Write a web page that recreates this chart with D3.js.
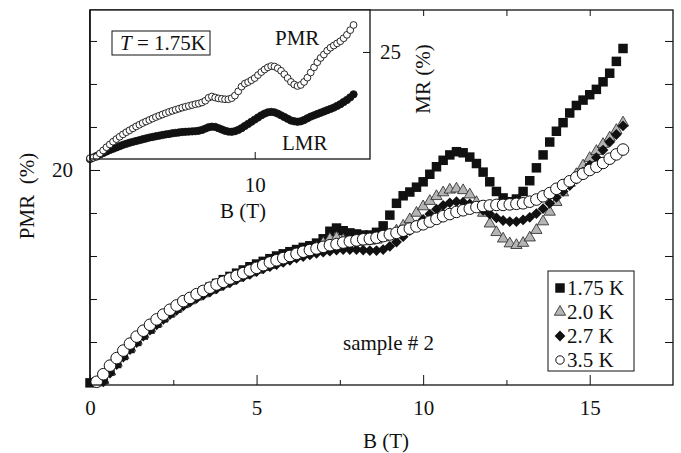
<!DOCTYPE html>
<html>
<head>
<meta charset="utf-8">
<script src="https://cdn.jsdelivr.net/npm/d3@7"></script>
<style>
body { margin: 0; background: #fff; }
text { font-family: "Liberation Serif", "Times New Roman", serif; fill: #111; }
</style>
</head>
<body>
<script>
// Magnetic field (T), shared by all series.
var fieldB = [0, 0.2, 0.4, 0.6, 0.8, 1.0, 1.2, 1.4, 1.6, 1.8,
    2.0, 2.2, 2.4, 2.6, 2.8, 3.0, 3.2, 3.4, 3.6, 3.8,
    4.0, 4.2, 4.4, 4.6, 4.8, 5.0, 5.2, 5.4, 5.6, 5.8,
    6.0, 6.2, 6.4, 6.6, 6.8, 7.0, 7.2, 7.4, 7.6, 7.8,
    8.0, 8.2, 8.4, 8.6, 8.8, 9.0, 9.2, 9.4, 9.6, 9.8,
    10.0, 10.2, 10.4, 10.6, 10.8, 11.0, 11.2, 11.4, 11.6, 11.8,
    12.0, 12.2, 12.4, 12.6, 12.8, 13.0, 13.2, 13.4, 13.6, 13.8,
    14.0, 14.2, 14.4, 14.6, 14.8, 15.0, 15.2, 15.4, 15.6, 15.8, 16.0];

// PMR (%) at 1.75 K (also the PMR curve of the inset).
var pmr175 = [0.2, 0.3, 0.5, 1.3, 2.0, 2.75, 3.4, 4.05, 4.65, 5.2,
    5.75, 6.25, 6.7, 7.15, 7.6, 8.0, 8.4, 8.75, 9.1, 9.45,
    9.8, 10.1, 10.4, 10.7, 11.0, 11.25, 11.5, 11.75, 12.0, 12.2,
    12.4, 12.6, 12.8, 12.95, 13.2, 13.6, 14.3, 14.6, 14.35, 14.15,
    14.05, 13.95, 13.95, 14.2, 14.8, 15.8, 16.9, 17.6, 17.95, 18.4,
    18.9, 19.6, 20.3, 20.9, 21.4, 21.7, 21.6, 21.2, 20.6, 19.8,
    18.9, 18.0, 17.4, 17.05, 17.3, 18.0, 19.0, 20.2, 21.4, 22.6,
    23.6, 24.4, 25.3, 26.0, 26.5, 27.0, 27.5, 28.2, 29.0, 30.1, 31.3];

// PMR (%) at 2.0 K.
var pmr20 = [null, null, 0.45, 1.25, 2.05, 2.75, 3.45, 4.1, 4.7, 5.25,
    5.75, 6.25, 6.7, 7.1, 7.5, 7.85, 8.2, 8.5, 8.8, 9.1,
    9.4, 9.65, 9.95, 10.2, 10.45, 10.7, 10.95, 11.15, 11.4, 11.6,
    11.8, 12.0, 12.2, 12.45, 12.8, 13.2, 13.6, 13.7, 13.5, 13.35,
    13.3, 13.35, 13.4, 13.5, 13.7, 14.0, 14.35, 14.8, 15.4, 16.0,
    16.6, 17.1, 17.55, 17.9, 18.15, 18.25, 18.1, 17.7, 17.0, 16.0,
    15.0, 14.2, 13.6, 13.15, 13.0, 13.2, 13.7, 14.4, 15.2, 16.1,
    17.0, 17.9, 18.8, 19.6, 20.4, 21.1, 21.75, 22.4, 23.0, 23.7, 24.4];

// PMR (%) at 2.7 K.
var pmr27 = [null, null, 0.3, 1.1, 1.9, 2.6, 3.3, 3.95, 4.55, 5.1,
    5.6, 6.1, 6.55, 6.95, 7.35, 7.7, 8.05, 8.35, 8.65, 8.95,
    9.25, 9.5, 9.8, 10.05, 10.3, 10.55, 10.8, 11.0, 11.2, 11.4,
    11.6, 11.8, 11.95, 12.1, 12.25, 12.35, 12.45, 12.55, 12.6, 12.6,
    12.6, 12.55, 12.5, 12.5, 12.6, 12.9, 13.3, 13.8, 14.35, 14.9,
    15.4, 15.9, 16.35, 16.7, 16.95, 17.05, 17.0, 16.85, 16.6, 16.25,
    15.9, 15.55, 15.3, 15.2, 15.2, 15.35, 15.6, 15.95, 16.4, 16.9,
    17.45, 18.0, 18.55, 19.15, 19.8, 20.45, 21.15, 21.85, 22.6, 23.3, 24.1];

// PMR (%) at 3.5 K.
var pmr35 = [null, 0.3, 1.0, 1.8, 2.5, 3.2, 3.85, 4.5, 5.05, 5.6,
    6.1, 6.55, 7.0, 7.4, 7.8, 8.1, 8.45, 8.75, 9.05, 9.35,
    9.6, 9.9, 10.15, 10.4, 10.65, 10.9, 11.15, 11.4, 11.6, 11.8,
    12.0, 12.2, 12.4, 12.55, 12.7, 12.85, 13.0, 13.1, 13.25, 13.35,
    13.45, 13.55, 13.6, 13.7, 13.85, 14.0, 14.15, 14.35, 14.55, 14.75,
    14.95, 15.2, 15.45, 15.7, 15.9, 16.1, 16.25, 16.4, 16.55, 16.65,
    16.7, 16.75, 16.75, 16.8, 16.85, 16.9, 17.05, 17.25, 17.55, 17.85,
    18.25, 18.6, 18.95, 19.3, 19.65, 20.0, 20.3, 20.65, 21.05, 21.45, 21.9];

// LMR (%) at 1.75 K, inset.
var lmr175 = [0, 0.35, 0.7, 1.05, 1.4, 1.75, 2.1, 2.4, 2.7, 3.0,
    3.3, 3.55, 3.8, 4.0, 4.2, 4.4, 4.6, 4.8, 5.0, 5.15,
    5.3, 5.45, 5.6, 5.75, 5.85, 6.0, 6.1, 6.2, 6.3, 6.35,
    6.4, 6.45, 6.5, 6.6, 6.8, 7.1, 7.4, 7.55, 7.5, 7.2,
    6.9, 6.6, 6.4, 6.35, 6.5, 6.8, 7.2, 7.7, 8.2, 8.7,
    9.2, 9.7, 10.2, 10.6, 10.9, 11.0, 10.9, 10.6, 10.2, 9.8,
    9.4, 9.0, 8.8, 8.7, 8.8, 9.1, 9.5, 9.9, 10.2, 10.5,
    10.8, 11.1, 11.4, 11.7, 12.0, 12.4, 12.8, 13.3, 13.8, 14.4, 15.1];

var legendLabels = ["1.75 K", "2.0 K", "2.7 K", "3.5 K"];
var xMajorTicks = [0, 5, 10, 15];
var xMinorTicks = [2.5, 7.5, 12.5];
var yTicks = [4, 8, 12, 16, 20, 24, 28, 32];

var width = 681, height = 453;
var svg = d3.select("body").append("svg")
    .attr("width", width)
    .attr("height", height);

// Main scales.
var x = d3.scaleLinear().domain([0, 17.5]).range([90, 673]);
var y = d3.scaleLinear().domain([0, 34.88]).range([385, 10]);

// Marker styles per series, in drawing order.
var series = [
    { values: pmr175, shape: "square" },
    { values: pmr20, shape: "triangle" },
    { values: pmr27, shape: "diamond" },
    { values: pmr35, shape: "circle" }
];

function points(values) {
    return fieldB.map((b, i) => ({ b: b, v: values[i] })).filter(d => d.v != null);
}

function drawMarker(sel, shape) {
    if (shape === "square") {
        sel.append("path").attr("d", d3.symbol(d3.symbolSquare, 90))
            .attr("fill", "#111").attr("stroke", "none");
    } else if (shape === "triangle") {
        sel.append("path").attr("d", d3.symbol(d3.symbolTriangle, 55))
            .attr("fill", "#b4b4b4").attr("stroke", "#222").attr("stroke-width", 0.8);
    } else if (shape === "diamond") {
        sel.append("path").attr("d", d3.symbol(d3.symbolSquare, 58))
            .attr("transform", "rotate(45)")
            .attr("fill", "#111").attr("stroke", "none");
    } else {
        sel.append("circle").attr("r", 5.8)
            .attr("fill", "#fff").attr("stroke", "#111").attr("stroke-width", 1);
    }
}

// Draw the main data.
series.forEach(s => {
    svg.append("g")
        .selectAll("g")
        .data(points(s.values))
        .join("g")
        .attr("transform", d => "translate(" + x(d.b) + "," + y(d.v) + ")")
        .each(function () { drawMarker(d3.select(this), s.shape); });
});

// Frame and the bottom, top and right axes.
svg.append("rect")
    .attr("x", 90).attr("y", 10).attr("width", 583).attr("height", 375)
    .attr("fill", "none").attr("stroke", "#111").attr("stroke-width", 1.3);

function styleAxis(g) {
    g.select(".domain").remove();
    g.selectAll("line").attr("stroke", "#111").attr("stroke-width", 1);
    g.selectAll("text").attr("font-size", 21).attr("fill", "#111")
        .attr("font-family", "Liberation Serif, Times New Roman, serif");
}

svg.append("g").attr("transform", "translate(0,385)")
    .call(d3.axisBottom(x).tickValues(xMajorTicks).tickSize(-10).tickPadding(15).tickFormat(d3.format("d")))
    .call(styleAxis);
svg.append("g").attr("transform", "translate(0,385)")
    .call(d3.axisBottom(x).tickValues(xMinorTicks).tickSize(-5).tickFormat(""))
    .call(styleAxis);
svg.append("g").attr("transform", "translate(0,10)")
    .call(d3.axisTop(x).tickValues(xMajorTicks.concat(xMinorTicks)).tickSize(-6).tickFormat(""))
    .call(styleAxis);
svg.append("g").attr("transform", "translate(673,0)")
    .call(d3.axisRight(y).tickValues(yTicks).tickSize(-8).tickFormat(""))
    .call(styleAxis);

// Main axis titles and note.
svg.append("text")
    .attr("x", 386).attr("y", 448)
    .attr("text-anchor", "middle").attr("font-size", 21)
    .text("B (T)");

svg.append("text")
    .attr("transform", "translate(34,196) rotate(-90)")
    .attr("text-anchor", "middle").attr("font-size", 21)
    .attr("xml:space", "preserve").style("white-space", "pre")
    .text("PMR  (%)");

svg.append("text")
    .attr("x", 343).attr("y", 350).attr("font-size", 21)
    .text("sample # 2");

// Legend.
var legend = svg.append("g");
legend.append("rect")
    .attr("x", 548).attr("y", 271).attr("width", 86).attr("height", 100)
    .attr("fill", "#fff").attr("stroke", "#111").attr("stroke-width", 1);
var rowY = d3.scalePoint().domain(legendLabels).range([288, 360]);
series.forEach((s, i) => {
    var row = legend.append("g")
        .attr("transform", "translate(560," + rowY(legendLabels[i]) + ")");
    if (s.shape === "circle") {
        row.append("circle").attr("r", 4.2)
            .attr("fill", "#fff").attr("stroke", "#111").attr("stroke-width", 1);
    } else {
        drawMarker(row, s.shape);
    }
    row.append("text")
        .attr("x", 7).attr("y", 7).attr("font-size", 21)
        .text(legendLabels[i]);
});

// Inset: PMR and LMR at 1.75 K.
var xi = d3.scaleLinear().domain([0, 17]).range([90, 370]);
var yi = d3.scaleLinear().domain([0, 34.8]).range([159, 10]);
var inset = svg.append("g");

inset.append("rect")
    .attr("x", 90).attr("y", 10).attr("width", 280).attr("height", 149)
    .attr("fill", "#fff").attr("stroke", "none");

inset.append("g")
    .selectAll("circle")
    .data(points(lmr175))
    .join("circle")
    .attr("cx", d => xi(d.b)).attr("cy", d => yi(d.v)).attr("r", 3.7)
    .attr("fill", "#111").attr("stroke", "#111").attr("stroke-width", 0.8);

inset.append("g")
    .selectAll("circle")
    .data(points(pmr175))
    .join("circle")
    .attr("cx", d => xi(d.b)).attr("cy", d => yi(d.v)).attr("r", 3.4)
    .attr("fill", "#fff").attr("stroke", "#111").attr("stroke-width", 0.9);

inset.append("rect")
    .attr("x", 90).attr("y", 10).attr("width", 280).attr("height", 149)
    .attr("fill", "none").attr("stroke", "#111").attr("stroke-width", 1.3);

inset.append("g").attr("transform", "translate(0,159)")
    .call(d3.axisBottom(xi).tickValues([10]).tickSize(-7).tickPadding(18).tickFormat(d3.format("d")))
    .call(styleAxis);
inset.append("g").attr("transform", "translate(370,0)")
    .call(d3.axisRight(yi).tickValues([25]).tickSize(-7).tickPadding(10).tickFormat(d3.format("d")))
    .call(styleAxis);

inset.append("text")
    .attr("x", 243).attr("y", 218)
    .attr("text-anchor", "middle").attr("font-size", 21)
    .text("B (T)");
inset.append("text")
    .attr("transform", "translate(430,79) rotate(-90)")
    .attr("text-anchor", "middle").attr("font-size", 21)
    .text("MR (%)");
inset.append("text")
    .attr("x", 275).attr("y", 45).attr("font-size", 21)
    .text("PMR");
inset.append("text")
    .attr("x", 282).attr("y", 150).attr("font-size", 21)
    .text("LMR");

inset.append("rect")
    .attr("x", 112).attr("y", 31).attr("width", 98).attr("height", 24)
    .attr("fill", "#fff").attr("stroke", "#111").attr("stroke-width", 1);
var tLabel = inset.append("text")
    .attr("x", 120).attr("y", 50).attr("font-size", 21)
    .attr("xml:space", "preserve").style("white-space", "pre");
tLabel.append("tspan").attr("font-style", "italic").text("T");
tLabel.append("tspan").text(" = 1.75K");

// Left axis drawn last so its ticks show over the inset.
svg.append("g").attr("transform", "translate(90,0)")
    .call(d3.axisLeft(y).tickValues(yTicks.filter(t => t !== 20)).tickSize(-7).tickFormat(""))
    .call(styleAxis);
svg.append("g").attr("transform", "translate(90,0)")
    .call(d3.axisLeft(y).tickValues([20]).tickSize(-10).tickPadding(17).tickFormat(d3.format("d")))
    .call(styleAxis);
svg.append("line")
    .attr("x1", 90).attr("x2", 90).attr("y1", 10).attr("y2", 385)
    .attr("stroke", "#111").attr("stroke-width", 1.3);
</script>
</body>
</html>
